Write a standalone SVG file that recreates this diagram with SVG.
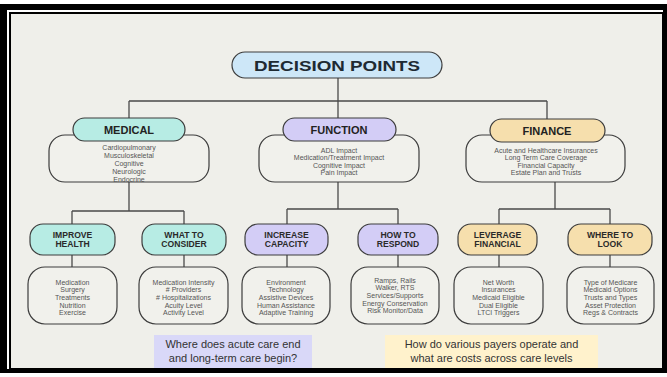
<svg xmlns="http://www.w3.org/2000/svg" width="667" height="377" viewBox="0 0 667 377">
<style>
.conn{stroke:#4a4a4a;stroke-width:1.3;fill:none}
.box{fill:#f1f1ec;stroke:#3c3c3c;stroke-width:1.2}
.pill{stroke:#3c3c3c;stroke-width:1.2}
.teal{fill:#b7ece4}
.lav{fill:#d3cdf6}
.peach{fill:#f6dfad}
.blue{fill:#cde7f8}
.h0{font-family:"Liberation Sans",Arial,sans-serif;font-weight:bold;fill:#1e2a33;text-anchor:middle}
.h1{font-family:"Liberation Sans",Arial,sans-serif;font-weight:bold;font-size:11px;fill:#222;text-anchor:middle}
.h2{font-family:"Liberation Sans",Arial,sans-serif;font-weight:bold;font-size:8.6px;fill:#2a2a2a;text-anchor:middle}
.d{font-family:"Liberation Sans",Arial,sans-serif;font-size:7px;fill:#555;text-anchor:middle}
.c{font-family:"Liberation Sans",Arial,sans-serif;font-size:11px;fill:#333;text-anchor:middle}
</style>
<rect x="0" y="0" width="667" height="377" fill="#fff"/>
<rect x="0" y="4" width="667" height="369" fill="#000"/>
<rect x="7" y="10" width="656" height="359" fill="#fff"/>
<rect x="9" y="12" width="654" height="357" fill="#000"/>
<rect x="11" y="14" width="651" height="354" fill="#efefea"/>

<g id="connectors">
<path class="conn" d="M338 78V101M129 101H547M129 101V118M338 101V118M547 101V119"/>
<path class="conn" d="M129 182V211M72 211H184M72 211V224M184 211V224"/>
<path class="conn" d="M338 182V209M287 209H398M287 209V224M398 209V224"/>
<path class="conn" d="M555 182V209M499 209H610M499 209V224M610 209V224"/>
<path class="conn" d="M72 255V267M184 255V267M287 255V267M398 255V267M499 255V267M610 255V267"/>
</g>

<g id="decision-points">
<rect class="pill blue" x="232" y="52" width="210" height="26" rx="13"/>
<text class="h0" x="337" y="71" font-size="15" textLength="166" lengthAdjust="spacingAndGlyphs">DECISION POINTS</text>
</g>

<g id="medical">
<rect class="box" x="49" y="135" width="160" height="47" rx="16"/>
<rect class="pill teal" x="73" y="118" width="112" height="23" rx="11.5"/>
<text class="h1" x="129" y="134">MEDICAL</text>
<text class="d" x="129" y="149.5">Cardiopulmonary</text>
<text class="d" x="129" y="157.5">Musculoskeletal</text>
<text class="d" x="129" y="165.5">Cognitive</text>
<text class="d" x="129" y="173.5">Neurologic</text>
<text class="d" x="129" y="181.5">Endocrine</text>
</g>

<g id="function">
<rect class="box" x="259" y="135" width="160" height="47" rx="16"/>
<rect class="pill lav" x="283" y="118" width="113" height="23" rx="11.5"/>
<text class="h1" x="339" y="134">FUNCTION</text>
<text class="d" x="339" y="152.5">ADL Impact</text>
<text class="d" x="339" y="160">Medication/Treatment Impact</text>
<text class="d" x="339" y="167.5">Cognitive Impact</text>
<text class="d" x="339" y="175">Pain Impact</text>
</g>

<g id="finance">
<rect class="box" x="466" y="135" width="159" height="47" rx="16"/>
<rect class="pill peach" x="490" y="119" width="115" height="23" rx="11.5"/>
<text class="h1" x="547" y="134.5">FINANCE</text>
<text class="d" x="546" y="152.5">Acute and Healthcare Insurances</text>
<text class="d" x="546" y="160">Long Term Care Coverage</text>
<text class="d" x="546" y="167.5">Financial Capacity</text>
<text class="d" x="546" y="175">Estate Plan and Trusts</text>
</g>

<g id="improve-health">
<rect class="pill teal" x="30" y="224" width="85" height="31" rx="13"/>
<text class="h2" x="72.5" y="238">IMPROVE</text>
<text class="h2" x="72.5" y="247">HEALTH</text>
<rect class="box" x="28" y="267" width="89" height="57" rx="17"/>
<text class="d" x="72.5" y="284.5">Medication</text>
<text class="d" x="72.5" y="292.2">Surgery</text>
<text class="d" x="72.5" y="299.9">Treatments</text>
<text class="d" x="72.5" y="307.6">Nutrition</text>
<text class="d" x="72.5" y="315.3">Exercise</text>
</g>

<g id="what-to-consider">
<rect class="pill teal" x="142" y="224" width="84" height="31" rx="13"/>
<text class="h2" x="184" y="238">WHAT TO</text>
<text class="h2" x="184" y="247">CONSIDER</text>
<rect class="box" x="139" y="267" width="89" height="57" rx="17"/>
<text class="d" x="183.5" y="284.5">Medication Intensity</text>
<text class="d" x="183.5" y="292.2"># Providers</text>
<text class="d" x="183.5" y="299.9"># Hospitalizations</text>
<text class="d" x="183.5" y="307.6">Acuity Level</text>
<text class="d" x="183.5" y="315.3">Activity Level</text>
</g>

<g id="increase-capacity">
<rect class="pill lav" x="245" y="224" width="83" height="31" rx="13"/>
<text class="h2" x="286.5" y="238">INCREASE</text>
<text class="h2" x="286.5" y="247">CAPACITY</text>
<rect class="box" x="242" y="267" width="88" height="57" rx="17"/>
<text class="d" x="286" y="284.5">Environment</text>
<text class="d" x="286" y="292.2">Technology</text>
<text class="d" x="286" y="299.9">Assistive Devices</text>
<text class="d" x="286" y="307.6">Human Assistance</text>
<text class="d" x="286" y="315.3">Adaptive Training</text>
</g>

<g id="how-to-respond">
<rect class="pill lav" x="358" y="224" width="80" height="31" rx="13"/>
<text class="h2" x="398" y="238">HOW TO</text>
<text class="h2" x="398" y="247">RESPOND</text>
<rect class="box" x="351" y="267" width="88" height="57" rx="17"/>
<text class="d" x="395" y="282.5">Ramps, Rails</text>
<text class="d" x="395" y="290.2">Walker, RTS</text>
<text class="d" x="395" y="297.9">Services/Supports</text>
<text class="d" x="395" y="305.6">Energy Conservation</text>
<text class="d" x="395" y="313.3">Risk Monitor/Data</text>
</g>

<g id="leverage-financial">
<rect class="pill peach" x="458" y="224" width="79" height="31" rx="13"/>
<text class="h2" x="497.5" y="238">LEVERAGE</text>
<text class="h2" x="497.5" y="247">FINANCIAL</text>
<rect class="box" x="454" y="267" width="89" height="57" rx="17"/>
<text class="d" x="498.5" y="284.5">Net Worth</text>
<text class="d" x="498.5" y="292.2">Insurances</text>
<text class="d" x="498.5" y="299.9">Medicaid Eligible</text>
<text class="d" x="498.5" y="307.6">Dual Eligible</text>
<text class="d" x="498.5" y="315.3">LTCI Triggers</text>
</g>

<g id="where-to-look">
<rect class="pill peach" x="568" y="224" width="84" height="31" rx="13"/>
<text class="h2" x="610" y="238">WHERE TO</text>
<text class="h2" x="610" y="247">LOOK</text>
<rect class="box" x="567" y="267" width="87" height="57" rx="17"/>
<text class="d" x="610.5" y="284.5">Type of Medicare</text>
<text class="d" x="610.5" y="292.2">Medicaid Options</text>
<text class="d" x="610.5" y="299.9">Trusts and Types</text>
<text class="d" x="610.5" y="307.6">Asset  Protection</text>
<text class="d" x="610.5" y="315.3">Regs &amp; Contracts</text>
</g>

<g id="note-acute">
<rect x="154" y="335" width="158" height="33" fill="#d9d8f8"/>
<text class="c" x="233" y="348">Where does acute care end</text>
<text class="c" x="233" y="362">and long-term care begin?</text>
</g>

<g id="note-payers">
<rect x="385" y="335" width="213" height="33" fill="#fff2cc"/>
<text class="c" x="491.5" y="348">How do various payers operate and</text>
<text class="c" x="491.5" y="362">what are costs across care levels</text>
</g>
</svg>
